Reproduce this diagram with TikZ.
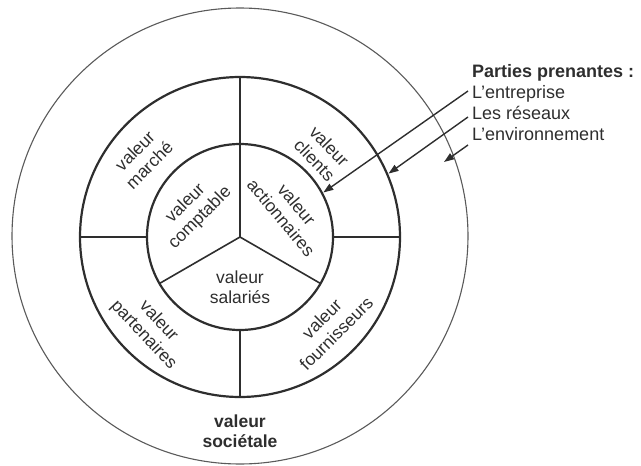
\documentclass[tikz,border=0pt]{standalone}
\usepackage{fontspec}
\setmainfont{Liberation Sans}
\usetikzlibrary{arrows.meta}
\definecolor{ink}{HTML}{2E2E2E}
\definecolor{thinink}{HTML}{5A5A5A}
\begin{document}
\begin{tikzpicture}[x=1pt,y=-1pt,
  ring/.style={circle, draw=ink, line width=2.2pt, inner sep=0pt, outer sep=0pt},
  outerring/.style={circle, draw=thinink, line width=1.1pt, inner sep=0pt, outer sep=0pt},
  spoke/.style={draw=ink, line width=1.6pt},
  lbl/.style={text=ink, align=center, font=\fontsize{17.5}{20.5}\selectfont, inner sep=0pt},
  side/.style={text=ink, anchor=base west, font=\fontsize{18}{21}\selectfont, inner sep=0pt},
  arr/.style={draw=ink, line width=1.4pt, -{Triangle[length=10pt,width=7pt]}}
]
\useasboundingbox (0,0) rectangle (641,466);
\coordinate (O) at (240,237);
\node[outerring, minimum size=456pt] (outer) at (240,236) {};
\node[ring, minimum size=320pt] (mid) at (O) {};
\node[ring, minimum size=186pt] (inner) at (O) {};
% spokes
\draw[spoke] (mid.north) -- (O);
\draw[spoke] (O) -- (inner.210);
\draw[spoke] (O) -- (inner.330);
\draw[spoke] (inner.south) -- (mid.south);
\draw[spoke] (mid.west) -- (inner.west);
\draw[spoke] (inner.east) -- (mid.east);
% labels
\node[lbl, rotate=45] (marche) at (142,158) {valeur\\marché};
\node[lbl, rotate=-46] (clients) at (322,153) {valeur\\clients};
\node[lbl, rotate=45] (compt) at (193,211) {valeur\\comptable};
\node[lbl, rotate=-50] (action) at (289,211) {valeur\\actionnaires};
\node[lbl] (sal) at (240,287) {valeur\\salariés};
\node[lbl, rotate=-47] (part) at (151,328) {valeur\\partenaires};
\node[lbl, rotate=45] (fourn) at (329,326) {valeur\\fournisseurs};
\node[lbl, font=\bfseries\fontsize{17.5}{20.5}\selectfont] (soc) at (240,431) {valeur\\sociétale};
% side text
\node[side, font=\bfseries\fontsize{18}{21}\selectfont] (pp) at (472,77) {Parties prenantes :};
\node[side] (ent) at (472,98) {L'entreprise};
\node[side] (res) at (472,119) {Les réseaux};
\node[side] (env) at (472,140) {L'environnement};
% arrows
\coordinate (s1) at (468,91);
\coordinate (s2) at (468,117);
\coordinate (s3) at (468,145);
\coordinate (t3) at (444,162);
\draw[arr, shorten >=1.5pt] (s1) -- (inner.28);
\draw[arr, shorten >=1.5pt] (s2) -- (mid.23);
\draw[arr] (s3) -- (t3);
\end{tikzpicture}
\end{document}
